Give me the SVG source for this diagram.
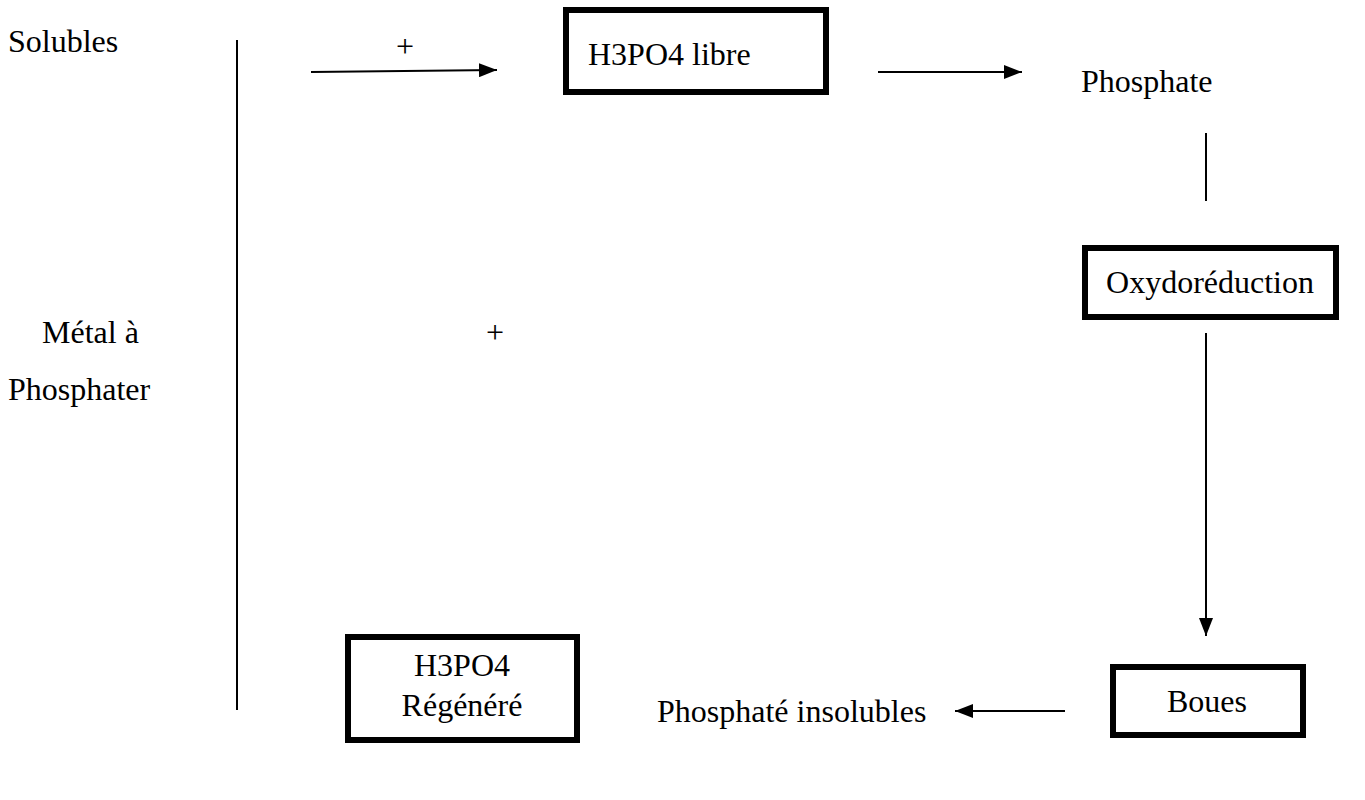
<svg xmlns="http://www.w3.org/2000/svg" width="1365" height="800" viewBox="0 0 1365 800">
  <style>
    text { font-family: "Liberation Serif", "Times New Roman", serif; font-size: 32px; fill: #000; }
    .box { fill: #fff; stroke: #000; stroke-width: 6; }
    .line { stroke: #000; stroke-width: 2; fill: none; }
  </style>
  <defs>
    <marker id="arrowBig" viewBox="0 0 18 14" refX="18" refY="7" markerWidth="18" markerHeight="14" markerUnits="userSpaceOnUse" orient="auto">
      <path d="M0,0 L18,7 L0,14 z" fill="#000"/>
    </marker>
  </defs>

  <!-- free labels -->
  <g id="label-solubles"><text x="8" y="52">Solubles</text></g>
  <g id="label-metal">
    <text x="42" y="343">Métal à</text>
    <text x="8" y="400">Phosphater</text>
  </g>
  <g id="label-plus-top"><text x="405" y="57" text-anchor="middle">+</text></g>
  <g id="label-plus-mid"><text x="495" y="343" text-anchor="middle">+</text></g>
  <g id="label-phosphate"><text x="1081" y="92">Phosphate</text></g>
  <g id="label-insolubles"><text x="657" y="722">Phosphaté insolubles</text></g>

  <!-- boxes -->
  <g id="node-h3po4-libre">
    <rect class="box" x="566" y="10" width="260" height="82"/>
    <text x="588" y="65">H3PO4 libre</text>
  </g>
  <g id="node-oxydoreduction">
    <rect class="box" x="1085" y="248" width="251" height="69"/>
    <text x="1210" y="293" text-anchor="middle">Oxydoréduction</text>
  </g>
  <g id="node-boues">
    <rect class="box" x="1113" y="667" width="190" height="68"/>
    <text x="1207" y="712" text-anchor="middle">Boues</text>
  </g>
  <g id="node-h3po4-regenere">
    <rect class="box" x="348" y="637" width="229" height="103"/>
    <text x="462" y="676" text-anchor="middle">H3PO4</text>
    <text x="462" y="716" text-anchor="middle">Régénéré</text>
  </g>

  <!-- connectors -->
  <g id="connectors">
    <line class="line" x1="237" y1="40" x2="237" y2="710"/>
    <line class="line" x1="311" y1="72" x2="497" y2="70" marker-end="url(#arrowBig)"/>
    <line class="line" x1="878" y1="72" x2="1022" y2="72" marker-end="url(#arrowBig)"/>
    <line class="line" x1="1206" y1="133" x2="1206" y2="201"/>
    <line class="line" x1="1206" y1="333" x2="1206" y2="636" marker-end="url(#arrowBig)"/>
    <line class="line" x1="1065" y1="711" x2="955" y2="711" marker-end="url(#arrowBig)"/>
  </g>
</svg>
